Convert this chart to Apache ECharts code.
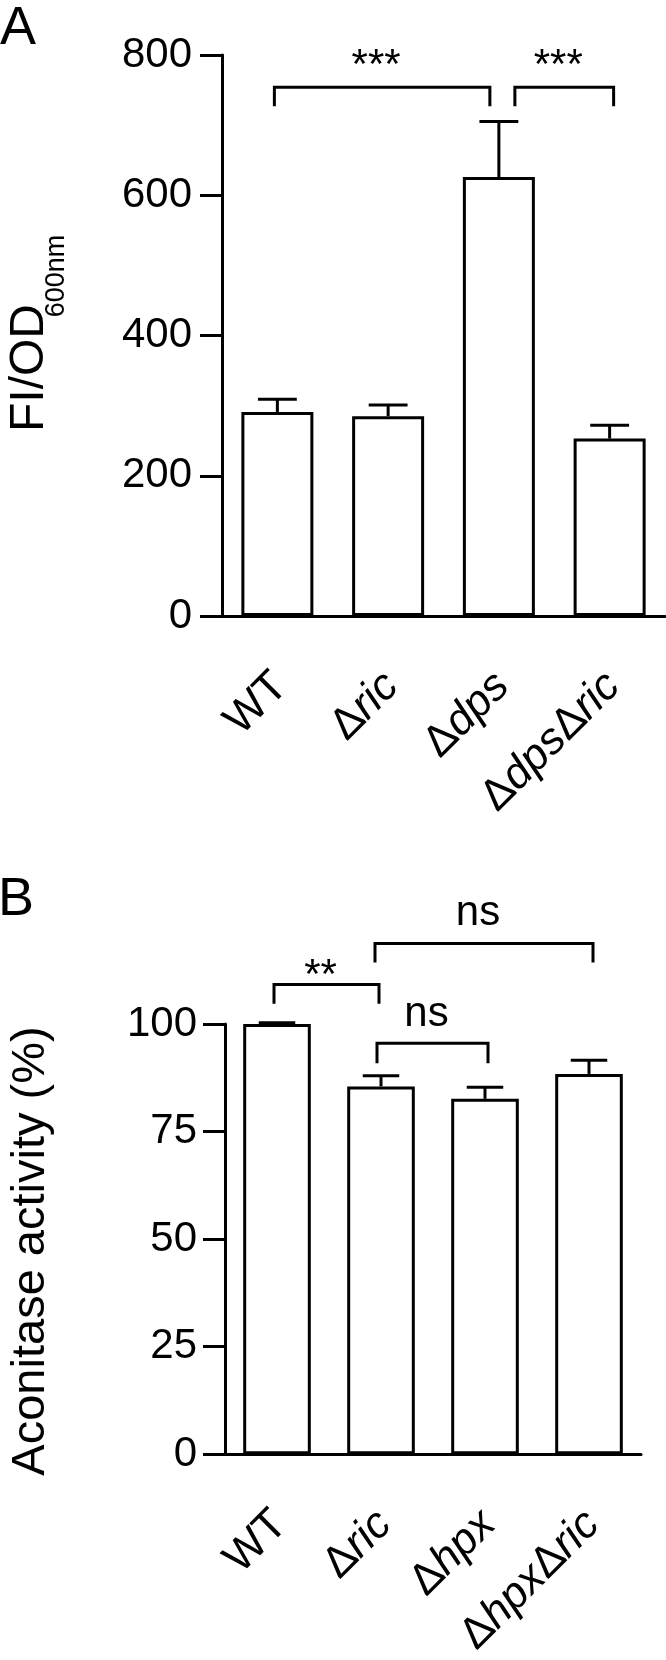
<!DOCTYPE html>
<html>
<head>
<meta charset="utf-8">
<script src="https://cdn.jsdelivr.net/npm/echarts@6/dist/echarts.min.js"></script>
<style>
    html, body { margin: 0; padding: 0; background: #fff; }
    #chart { width: 666px; height: 1660px; }
</style>
</head>
<body>
<div id="chart"></div>
<script>
// ---- panel A : FI/OD600nm ----
const catsA = ['WT', 'Δric', 'Δdps', 'ΔdpsΔric']
const meanA = [291, 285, 626, 253]
const errA = [18, 16, 79, 19]
// brackets: [from, to, top, leg end, text, text y]
const sigA = [
    [0, 2, 754, 727, '***', 784],
    [2, 3, 754, 727, '***', 784]
]

// ---- panel B : aconitase activity ----
const catsB = ['WT', 'Δric', 'Δhpx', 'ΔhpxΔric']
const meanB = [100, 85.5, 82.6, 88.4]
const errB = [0.3, 2.5, 2.7, 3.2]
const sigB = [
    [0, 1, 109.2, 104.7, '**', 111.1],
    [1, 2, 95.5, 90.9, 'ns', 102.3],
    [1, 3, 118.7, 114.3, 'ns', 125.8]
]

// small pixel nudges of bracket ends (left, right)
const nudgeA = [[-3, -9], [16, 4]]
const nudgeB = [[-3, -2], [-4, 3], [-6, 4]]

const FONT = '"Liberation Sans", Arial, sans-serif'
const LW = 3

// italic gene names, upright delta
function fmtCat (s) {
    if (s.indexOf('Δ') < 0) return '{r|' + s + '}'
    return s.split('Δ').filter(Boolean).map(p => '{d|Δ}{i|' + p + '}').join('')
}

function xAxisOf (gi, cats) {
    return {
        type: 'category',
        gridIndex: gi,
        data: cats,
        axisLine: { lineStyle: { color: '#000', width: LW } },
        axisTick: { alignWithLabel: true, length: 20, lineStyle: { color: '#000', width: LW } },
        axisLabel: {
            rotate: 45,
            margin: 60,
            padding: [10, 0, 0, 0],
            interval: 0,
            formatter: fmtCat,
            rich: {
                r: { fontSize: 44, fontFamily: FONT, color: '#000' },
                d: { fontSize: 44, fontFamily: FONT, color: '#000' },
                i: { fontSize: 44, fontFamily: FONT, fontStyle: 'italic', color: '#000' }
            }
        }
    }
}

function yAxisOf (gi, max, step, margin) {
    return {
        type: 'value',
        gridIndex: gi,
        min: 0,
        max: max,
        interval: step,
        splitLine: { show: false },
        axisLine: { show: true, lineStyle: { color: '#000', width: LW } },
        axisTick: { show: true, length: 22, lineStyle: { color: '#000', width: LW } },
        axisLabel: { fontSize: 42, fontFamily: FONT, color: '#000', margin: margin }
    }
}

function barSeries (gi, means) {
    return {
        type: 'bar',
        xAxisIndex: gi,
        yAxisIndex: gi,
        barWidth: '65%',
        data: means,
        itemStyle: { color: '#fff', borderColor: '#000', borderWidth: LW },
        z: 2
    }
}

// error bar: stem from bar top + cap
function errorSeries (gi, means, errs) {
    return {
        type: 'custom',
        xAxisIndex: gi,
        yAxisIndex: gi,
        data: means.map((m, i) => [i, m, m + errs[i]]),
        renderItem: (params, api) => {
            const base = api.coord([api.value(0), api.value(1)])
            const top = api.coord([api.value(0), api.value(2)])
            const half = api.size([1, 0])[0] * 0.65 * 0.27
            const st = { stroke: '#000', lineWidth: LW }
            return {
                type: 'group',
                children: [
                    { type: 'line', shape: { x1: base[0], y1: base[1], x2: top[0], y2: top[1] }, style: st },
                    { type: 'line', shape: { x1: top[0] - half, y1: top[1], x2: top[0] + half, y2: top[1] }, style: st }
                ]
            }
        },
        z: 3
    }
}

// significance brackets with labels
function bracketSeries (gi, sig, nudge) {
    return {
        type: 'custom',
        xAxisIndex: gi,
        yAxisIndex: gi,
        clip: false,
        data: sig.map(s => [s[0], s[2]]),
        renderItem: (params, api) => {
            const s = sig[params.dataIndex]
            const n = nudge[params.dataIndex]
            const a = api.coord([s[0], s[2]])
            const b = api.coord([s[1], s[2]])
            const leg = api.coord([s[0], s[3]])[1]
            const ty = api.coord([s[0], s[5]])[1]
            const x1 = a[0] + n[0]
            const x2 = b[0] + n[1]
            return {
                type: 'group',
                children: [
                    {
                        type: 'polyline',
                        shape: { points: [[x1, leg], [x1, a[1]], [x2, a[1]], [x2, leg]] },
                        style: { stroke: '#000', lineWidth: LW, fill: null, lineJoin: 'miter' }
                    },
                    {
                        type: 'text',
                        x: (x1 + x2) / 2 - 6,
                        y: ty,
                        style: {
                            text: s[4], fontSize: 42, fontFamily: FONT, fill: '#000',
                            align: 'center', verticalAlign: 'middle',
                            textAlign: 'center', textVerticalAlign: 'middle'
                        }
                    }
                ]
            }
        },
        z: 4
    }
}

function txt (x, y, text, size, rot) {
    return {
        type: 'text',
        x: x,
        y: y,
        rotation: rot || 0,
        style: {
            text: text, fontSize: size, fontFamily: FONT, fill: '#000',
            align: 'center', verticalAlign: 'middle',
            textAlign: 'center', textVerticalAlign: 'middle'
        }
    }
}

const myChart = echarts.init(document.getElementById('chart'))
myChart.setOption({
    animation: false,
    backgroundColor: '#fff',
    grid: [
        { left: 222, right: 1, top: 55, height: 561 },
        { left: 225, right: 25, top: 1024, height: 449 }
    ],
    xAxis: [xAxisOf(0, catsA), xAxisOf(1, catsB)],
    yAxis: [yAxisOf(0, 800, 200, 30), yAxisOf(1, 100, 25, 28)],
    series: [
        barSeries(0, meanA), errorSeries(0, meanA, errA), bracketSeries(0, sigA, nudgeA),
        barSeries(1, meanB), errorSeries(1, meanB, errB), bracketSeries(1, sigB, nudgeB)
    ],
    graphic: [
        txt(18, 29, 'A', 54, 0),
        txt(16, 900, 'B', 54, 0),
        // y titles, rotated
        txt(30, 368, 'FI/OD', 48, Math.PI / 2),
        txt(57, 276, '600nm', 27, Math.PI / 2),
        txt(31, 1251, 'Aconitase activity (%)', 47, Math.PI / 2)
    ]
})
</script>
</body>
</html>
